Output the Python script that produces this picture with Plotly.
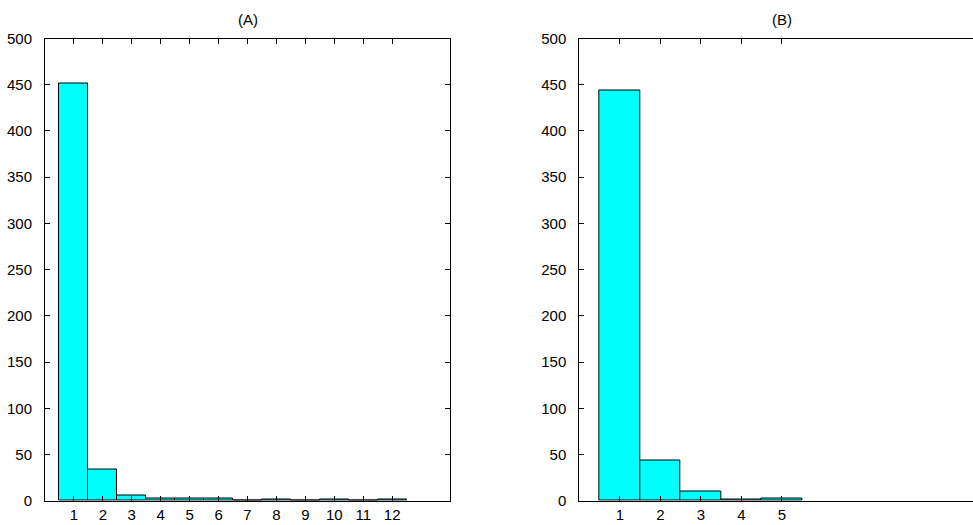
import plotly.graph_objects as go

# Data
cats_a = [1, 2, 3, 4, 5, 6, 7, 8, 9, 10, 11, 12]
vals_a = [451, 34, 6, 2, 2, 2, 0, 1, 0, 1, 0, 1]
cats_b = [1, 2, 3, 4, 5]
vals_b = [444, 43, 10, 1, 2]
title_a = "(A)"
title_b = "(B)"
y_ticks = list(range(0, 501, 50))

W, H = 973, 525
FONT = dict(family="Liberation Sans, Arial, sans-serif", size=15, color="black")

fig = go.Figure()
bar_style = dict(marker=dict(color="#00FFFF", line=dict(color="black", width=1)), width=1, showlegend=False)
fig.add_trace(go.Bar(x=cats_a, y=vals_a, xaxis="x", yaxis="y", **bar_style))
fig.add_trace(go.Bar(x=cats_b, y=vals_b, xaxis="x2", yaxis="y2", **bar_style))

ydom = [1 - 500.7 / H, 1 - 38.5 / H]
ax_common = dict(showgrid=False, zeroline=False, showline=True, linecolor="black", linewidth=1,
                 ticks="inside", ticklen=5, tickcolor="black", tickwidth=1, tickfont=FONT,
                 automargin=False)

fig.update_layout(
    width=W, height=H,
    margin=dict(l=0, r=0, t=0, b=0, autoexpand=False),
    paper_bgcolor="white", plot_bgcolor="white",
    bargap=0,
    font=FONT,
    xaxis=dict(domain=[45 / W, 450 / W], range=[0, 14], tickvals=cats_a, mirror="ticks",
               anchor="y", ticklabelstandoff=0, **ax_common),
    yaxis=dict(domain=ydom, range=[0, 500], tickvals=y_ticks, mirror="ticks", anchor="x",
               ticklabelstandoff=9, **ax_common),
    xaxis2=dict(domain=[579.3 / W, 1], range=[0, (973 - 579.3) / 40.5], tickvals=cats_b, mirror="ticks",
                anchor="y2", ticklabelstandoff=0, **ax_common),
    yaxis2=dict(domain=ydom, range=[0, 500], tickvals=y_ticks, mirror=False, anchor="x2",
                ticklabelstandoff=9, **ax_common),
    annotations=[
        dict(text=title_a, x=248 / W, y=1 - 19.5 / H, xref="paper", yref="paper",
             showarrow=False, xanchor="center", yanchor="middle", font=FONT),
        dict(text=title_b, x=781.5 / W, y=1 - 19.5 / H, xref="paper", yref="paper",
             showarrow=False, xanchor="center", yanchor="middle", font=FONT),
    ],
)

fig.write_html(
    "out.html",
    config={"displayModeBar": False},
    post_script="document.body.style.margin='0';document.body.style.overflow='hidden';",
)
